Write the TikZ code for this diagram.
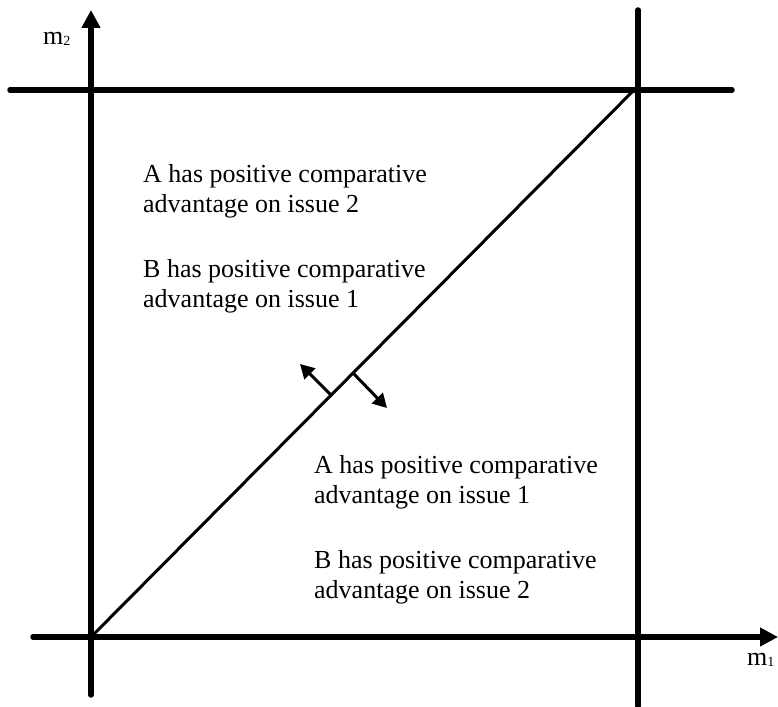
\documentclass[tikz,border=0pt]{standalone}
\usepackage{fontspec}
\setmainfont{Liberation Serif}
\usetikzlibrary{arrows.meta, positioning}

\newcommand{\axsub}[1]{\raisebox{-1pt}{\fontsize{14}{14}\selectfont #1}}

\tikzset{
    axis/.style = {line width=5.5pt, line cap=round},
    axisarrow/.style = {axis, -{Triangle[length=18pt, width=18pt]}},
    diag/.style = {line width=3pt},
    normalarrow/.style = {line width=3pt, -{Triangle[length=14pt, width=15pt]}},
    note/.style = {font=\fontsize{26}{30}\selectfont, align=left, inner sep=0pt},
}

\begin{document}
\begin{tikzpicture}[x=1pt, y=-1pt]
    \useasboundingbox (0,0) rectangle (778,706);

    % corners of the box
    \coordinate (O) at (91,637);
    \coordinate (top) at (636,88);
    \coordinate (ytip) at (91,10);
    \coordinate (ybot) at (91,695);
    \coordinate (xtip) at (778,637);
    \coordinate (xleft) at (33,637);
    \coordinate (rtop) at (638,10);
    \coordinate (rbot) at (638,706);
    \coordinate (tleft) at (10,90);
    \coordinate (tright) at (732,90);

    % axes and frame
    \draw[axisarrow] (ybot) -- (ytip);
    \draw[axisarrow] (xleft) -- (xtip);
    \draw[axis] (rtop) -- (rbot);
    \draw[axis] (tleft) -- (tright);

    % diagonal
    \draw[diag] (O) -- (top);

    % normal arrows on the diagonal
    \coordinate (baseL) at (332,396);
    \coordinate (tipL) at (300,364);
    \coordinate (baseR) at (353,373);
    \coordinate (tipR) at (387,408);
    \draw[normalarrow] (baseL) -- (tipL);
    \draw[normalarrow] (baseR) -- (tipR);

    % axis labels
    \node[note, anchor=base west] (mtwo) at (43,45) {m\axsub{2}};
    \node[note, anchor=base west] (mone) at (747,665) {m\axsub{1}};

    % region texts (base = last line)
    \node[note, anchor=base west] (upperA) at (143,212) {A has positive comparative\\advantage on issue 2};
    \node[note, anchor=base west] (upperB) at (143,307) {B has positive comparative\\advantage on issue 1};
    \node[note, anchor=base west] (lowerA) at (314,503) {A has positive comparative\\advantage on issue 1};
    \node[note, anchor=base west] (lowerB) at (314,598) {B has positive comparative\\advantage on issue 2};
\end{tikzpicture}
\end{document}
